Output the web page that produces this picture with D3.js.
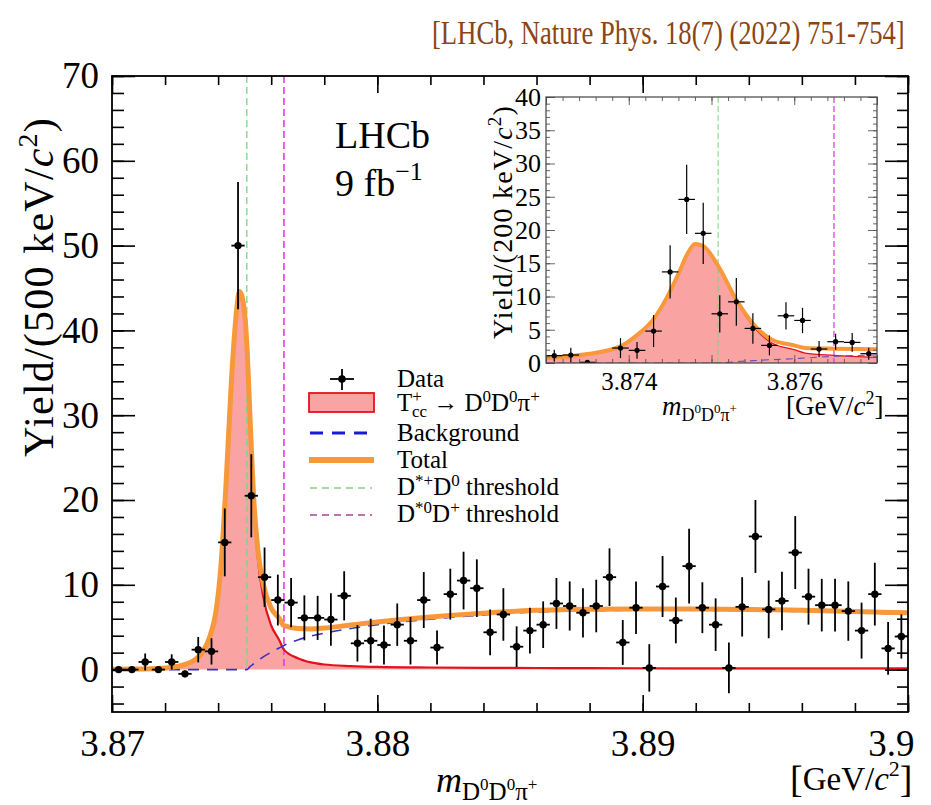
<!DOCTYPE html>
<html><head><meta charset="utf-8">
<script src="https://cdn.jsdelivr.net/npm/d3@7"></script>
<style>body{margin:0;background:#fff} svg{display:block}</style>
</head><body>
<svg id="chart" width="931" height="805"></svg>
<script>
// ---------- main histogram: 500 keV bins from 3.870 to 3.900 GeV ----------
const mainRange = [3.87, 3.90];
const mainBinWidth = 0.0005;
const mainYields = [0.0, 0.0, 0.9, 0.0, 0.9, -0.5, 2.35, 2.15, 15.0, 50.0,
  20.5, 10.9, 8.2, 7.9, 6.1, 6.1, 5.9, 8.7, 3.1, 3.4,
  2.9, 5.3, 3.4, 8.2, 2.6, 8.9, 10.5, 9.6, 4.4, 6.5,
  2.7, 4.6, 5.3, 7.8, 7.5, 6.7, 7.5, 10.9, 3.2, 7.3,
  0.2, 9.8, 5.8, 12.2, 7.3, 5.3, 0.2, 7.4, 15.7, 7.1,
  8.1, 13.8, 8.6, 7.6, 7.6, 6.9, 4.6, 8.9, 2.5, 3.9];
const mainErrors = [0, 0, 1.0, 0, 0.9, 0.4, 1.5, 1.55, 4.0, 7.5,
  4.9, 3.5, 3.0, 2.9, 2.65, 2.6, 3.1, 2.9, 2.15, 2.6,
  2.3, 2.5, 2.8, 3.3, 2.0, 3.0, 3.4, 3.4, 2.7, 3.1,
  2.4, 2.7, 2.75, 3.0, 2.9, 2.9, 3.1, 3.4, 2.65, 3.1,
  2.8, 3.6, 2.7, 4.4, 3.0, 3.1, 3.0, 3.5, 4.3, 3.4,
  3.45, 4.3, 3.3, 3.1, 3.1, 3.5, 3.3, 3.7, 3.1, 2.6];

// fit components sampled along the mass axis (per 500 keV)
const fitMass = [3.8700, 3.8715, 3.8722, 3.8727, 3.8731, 3.8734, 3.8737, 3.8739, 3.8741, 3.8743,
  3.8745, 3.8747, 3.8748, 3.8749, 3.87508, 3.8752, 3.87535, 3.8755, 3.8757, 3.8760,
  3.8763, 3.87648, 3.8770, 3.8775, 3.8780, 3.8790, 3.8800, 3.8820, 3.8840, 3.8860,
  3.8880, 3.8900, 3.8920, 3.8940, 3.8960, 3.8980, 3.9000];
const fitSignal = [0.05, 0.10, 0.25, 0.55, 1.10, 2.00, 4.00, 6.50, 12.0, 22.0,
  34.0, 42.5, 44.6, 44.0, 38.5, 29.5, 19.0, 13.0, 8.6, 5.2,
  3.5, 2.35, 1.35, 0.85, 0.60, 0.42, 0.32, 0.25, 0.21, 0.19,
  0.17, 0.16, 0.15, 0.15, 0.14, 0.14, 0.14];
const fitBackground = [0, 0, 0, 0, 0, 0, 0, 0, 0, 0,
  0, 0, 0, 0, 0, 0.35, 0.7, 1.05, 1.5, 2.05,
  2.55, 2.85, 3.5, 3.95, 4.3, 4.85, 5.3, 5.95, 6.45, 6.8,
  6.95, 7.0, 7.0, 6.95, 6.85, 6.7, 6.55];

// isospin-partner thresholds
const thresholdDstarPlusD0 = 3.87508;
const thresholdDstar0DPlus = 3.87648;

const xMajorTicks = [3.87, 3.88, 3.89, 3.90];
const xTickLabels = ["3.87", "3.88", "3.89", "3.9"];
const yMajorTicks = [0, 10, 20, 30, 40, 50, 60, 70];
const yTickLabels = ["0", "10", "20", "30", "40", "50", "60", "70"];

// ---------- zoomed histogram: 200 keV bins from 3.873 to 3.877 GeV ----------
const insetRange = [3.873, 3.877];
const insetBinWidth = 0.0002;
const insetYields = [1.1, 1.2, 0.1, null, 2.25, 1.9, 4.8, 13.7, 24.6, 19.5,
  7.4, 9.2, 5.2, 2.65, 7.1, 6.4, 2.1, 3.2, 3.1, 1.4];
const insetErrors = [0.9, 1.1, 0.3, null, 1.5, 1.25, 2.4, 4.0, 5.2, 4.6,
  2.8, 3.6, 2.3, 1.5, 2.05, 1.9, 1.2, 1.2, 1.4, 0.9];
const insetFitMass = [3.8730, 3.8735, 3.8739, 3.8741, 3.8743, 3.87445, 3.8746, 3.8747, 3.8748, 3.8749,
  3.87508, 3.8753, 3.8755, 3.87573, 3.8760, 3.87613, 3.87648, 3.8770];
const insetFitSignal = [0.75, 1.35, 2.5, 4.2, 6.6, 9.6, 13.4, 16.2, 17.9, 17.6,
  14.6, 9.3, 5.6, 3.0, 2.0, 1.5, 1.15, 0.85];
const insetFitBackground = [0, 0, 0, 0, 0, 0, 0, 0, 0, 0,
  0, 0.2, 0.35, 0.5, 0.65, 0.75, 1.0, 1.2];
const insetXTicks = [3.874, 3.876];
const insetXTickLabels = ["3.874", "3.876"];
const insetYTicks = [0, 5, 10, 15, 20, 25, 30, 35, 40];

// ---------- styling ----------
const SERIF = "'Liberation Serif', 'DejaVu Serif', serif";
const C = {
  fill: "#f9a3a3", red: "#e3131e", orange: "#f7983a", blue: "#1a1ad6",
  bkgThin: "#3b2fc9", green: "#7fd47f", magenta: "#e23ee2", title: "#8b4513"
};

const svg = d3.select("#chart").attr("font-family", SERIF);

// rich text helper: parts = [{t, sh (px, +down), sz (px), it, dx}]
function richText(g, x, yb, parts, opts = {}) {
  const t = g.append("text").attr("x", x).attr("y", yb)
    .attr("font-family", SERIF).attr("fill", opts.fill || "#000")
    .attr("text-anchor", opts.anchor || "start");
  if (opts.transform) t.attr("transform", opts.transform);
  if (opts.spacing) t.attr("letter-spacing", opts.spacing);
  let prev = 0;
  parts.forEach(p => {
    const sh = p.sh || 0;
    const s = t.append("tspan").attr("dy", sh - prev).attr("font-size", p.sz).text(p.t);
    if (p.it) s.attr("font-style", "italic");
    if (p.dx) s.attr("dx", p.dx);
    prev = sh;
  });
  return t;
}

function massLabel(sz, sub, sup) {
  return [
    {t: "m", sz: sz, it: true},
    {t: "D", sz: sub, sh: sz * 0.22},
    {t: "0", sz: sup, sh: -sz * 0.06},
    {t: "D", sz: sub, sh: sz * 0.22},
    {t: "0", sz: sup, sh: -sz * 0.06},
    {t: "π", sz: sub, sh: sz * 0.22},
    {t: "+", sz: sup, sh: -sz * 0.06}
  ];
}

function drawHistogram(g, cfg) {
  const {x, y, mass, yields, errors, binW, r, lw} = cfg;
  const pts = mass.map((m, i) => ({m, v: yields[i], e: errors[i]})).filter(d => d.v !== null);
  const pg = g.append("g").attr("stroke", "#000").attr("stroke-width", lw);
  pts.forEach(d => {
    pg.append("line").attr("x1", x(d.m - binW / 2)).attr("x2", x(d.m + binW / 2))
      .attr("y1", y(d.v)).attr("y2", y(d.v));
    if (d.e > 0) pg.append("line").attr("x1", x(d.m)).attr("x2", x(d.m))
      .attr("y1", y(d.v - d.e)).attr("y2", y(d.v + d.e));
  });
  g.append("g").selectAll("circle").data(pts).join("circle")
    .attr("cx", d => x(d.m)).attr("cy", d => y(d.v)).attr("r", r).attr("fill", "#000");
}

function drawFit(g, cfg) {
  const {x, y, mass, sig, bkg, wOrange, wRed, wBkg, dashBkg, bkgColor} = cfg;
  const rows = mass.map((m, i) => ({m, s: sig[i], b: bkg[i], t: sig[i] + bkg[i]}));
  const curve = d3.curveMonotoneX;
  g.append("path").datum(rows).attr("fill", C.fill)
    .attr("d", d3.area().curve(curve).x(d => x(d.m)).y0(y(0)).y1(d => y(d.s)));
  return {
    signalLine: () => g.append("path").datum(rows).attr("fill", "none").attr("stroke", C.red)
      .attr("stroke-width", wRed).attr("d", d3.line().curve(curve).x(d => x(d.m)).y(d => y(d.s))),
    bkgLine: () => g.append("path").datum(rows).attr("fill", "none").attr("stroke", bkgColor)
      .attr("stroke-width", wBkg).attr("stroke-dasharray", dashBkg)
      .attr("d", d3.line().curve(curve).x(d => x(d.m)).y(d => y(d.b))),
    totalLine: () => g.append("path").datum(rows).attr("fill", "none").attr("stroke", C.orange)
      .attr("stroke-width", wOrange).attr("stroke-linejoin", "round")
      .attr("d", d3.line().curve(curve).x(d => x(d.m)).y(d => y(d.t)))
  };
}

// ================= main frame =================
const M = {l: 112, r: 908, t: 76, b: 712};
const x = d3.scaleLinear().domain(mainRange).range([M.l, M.r]);
const y = d3.scaleLinear().domain([-5, 70]).range([M.b, M.t]);

const defs = svg.append("defs");
defs.append("clipPath").attr("id", "mainClip")
  .append("rect").attr("x", M.l).attr("y", M.t).attr("width", M.r - M.l).attr("height", M.b - M.t);

const plot = svg.append("g").attr("clip-path", "url(#mainClip)");

const mainFit = drawFit(plot, {
  x, y, mass: fitMass, sig: fitSignal, bkg: fitBackground,
  wOrange: 5, wRed: 2.2, wBkg: 1.6, dashBkg: "11,8", bkgColor: C.bkgThin
});
plot.append("line").attr("x1", x(thresholdDstarPlusD0)).attr("x2", x(thresholdDstarPlusD0))
  .attr("y1", y(70)).attr("y2", y(0)).attr("stroke", C.green).attr("stroke-width", 1.5)
  .attr("stroke-dasharray", "7,4").attr("opacity", 0.85);
plot.append("line").attr("x1", x(thresholdDstar0DPlus)).attr("x2", x(thresholdDstar0DPlus))
  .attr("y1", y(70)).attr("y2", y(0)).attr("stroke", C.magenta).attr("stroke-width", 1.6)
  .attr("stroke-dasharray", "7,4");
mainFit.signalLine();
mainFit.bkgLine();
mainFit.totalLine();

const mainCenters = mainYields.map((_, i) => mainRange[0] + mainBinWidth * (i + 0.5));
drawHistogram(plot, {x, y, mass: mainCenters, yields: mainYields, errors: mainErrors,
  binW: mainBinWidth, r: 3.7, lw: 1.8});

// axes
function styleAxis(g, fs) {
  g.select(".domain").remove();
  g.attr("font-family", SERIF);
  g.selectAll(".tick line").attr("stroke", "#000").attr("stroke-width", 1.6);
  g.selectAll("text").attr("font-family", SERIF).attr("font-size", fs).attr("fill", "#000");
}
const xMinor = d3.range(3.870, 3.9001, 0.002);
const yMinor = d3.range(-4, 70.01, 2);

svg.append("g").attr("transform", `translate(0,${M.b})`)
  .call(d3.axisBottom(x).tickValues(xMinor).tickSize(-9).tickSizeOuter(0).tickFormat(""))
  .call(g => styleAxis(g, 30));
svg.append("g").attr("transform", `translate(0,${M.b})`)
  .call(d3.axisBottom(x).tickValues(xMajorTicks).tickSize(-17).tickSizeOuter(0).tickPadding(18)
    .tickFormat((d, i) => xTickLabels[i]))
  .call(g => styleAxis(g, 37))
  // the last label is pulled inside the frame edge
  .call(g => g.selectAll(".tick text").filter(d => d === 3.90).attr("text-anchor", "end").attr("dx", 6));
svg.append("g").attr("transform", `translate(0,${M.t})`)
  .call(d3.axisTop(x).tickValues(xMinor).tickSize(-9).tickSizeOuter(0).tickFormat(""))
  .call(g => styleAxis(g, 30));
svg.append("g").attr("transform", `translate(0,${M.t})`)
  .call(d3.axisTop(x).tickValues(xMajorTicks).tickSize(-17).tickSizeOuter(0).tickFormat(""))
  .call(g => styleAxis(g, 30));
svg.append("g").attr("transform", `translate(${M.l},0)`)
  .call(d3.axisLeft(y).tickValues(yMinor).tickSize(-12).tickSizeOuter(0).tickFormat(""))
  .call(g => styleAxis(g, 30));
svg.append("g").attr("transform", `translate(${M.l},0)`)
  .call(d3.axisLeft(y).tickValues(yMajorTicks).tickSize(-23).tickSizeOuter(0).tickPadding(13)
    .tickFormat((d, i) => yTickLabels[i]))
  .call(g => styleAxis(g, 37));
svg.append("g").attr("transform", `translate(${M.r},0)`)
  .call(d3.axisRight(y).tickValues(yMinor).tickSize(-11).tickSizeOuter(0).tickFormat(""))
  .call(g => styleAxis(g, 30));
svg.append("g").attr("transform", `translate(${M.r},0)`)
  .call(d3.axisRight(y).tickValues(yMajorTicks).tickSize(-23).tickSizeOuter(0).tickFormat(""))
  .call(g => styleAxis(g, 30));

svg.append("rect").attr("x", M.l).attr("y", M.t).attr("width", M.r - M.l).attr("height", M.b - M.t)
  .attr("fill", "none").attr("stroke", "#000").attr("stroke-width", 1.8);

// axis titles
richText(svg, 0, 0, [
  {t: "Yield/(500 keV/", sz: 42}, {t: "c", sz: 42, it: true},
  {t: "2", sz: 28, sh: -16}, {t: ")", sz: 42, sh: 0}
], {anchor: "middle", transform: "translate(53,287) rotate(-90)", spacing: 1.2});

richText(svg, 436, 792, massLabel(36, 25, 17));
richText(svg, 790, 792, [
  {t: "[", sz: 38}, {t: "GeV/", sz: 33, sh: -2}, {t: "c", sz: 33, it: true, sh: -2},
  {t: "2", sz: 22, sh: -16}, {t: "]", sz: 38, sh: 0}
]);

// experiment label
richText(svg, 335, 148, [{t: "LHCb", sz: 38}]);
richText(svg, 335, 196, [{t: "9 fb", sz: 38}, {t: "−1", sz: 26, sh: -16}]);

// ================= legend =================
const lg = svg.append("g");
const legendTextX = 397;
const LFS = 25, LSS = 17;
lg.append("line").attr("x1", 330).attr("x2", 354).attr("y1", 379).attr("y2", 379).attr("stroke", "#000").attr("stroke-width", 1.8);
lg.append("line").attr("x1", 342).attr("x2", 342).attr("y1", 369).attr("y2", 390).attr("stroke", "#000").attr("stroke-width", 1.8);
lg.append("circle").attr("cx", 342).attr("cy", 379).attr("r", 3.8).attr("fill", "#000");
richText(lg, legendTextX, 387, [{t: "Data", sz: LFS}]);
lg.append("rect").attr("x", 309).attr("y", 393).attr("width", 65).attr("height", 19)
  .attr("fill", C.fill).attr("stroke", C.red).attr("stroke-width", 1.8);
richText(lg, legendTextX, 411, [
  {t: "T", sz: LFS}, {t: "+", sz: LSS, sh: -9}, {t: "cc", sz: LSS, sh: 6, dx: -10},
  {t: " → D", sz: LFS, sh: 0}, {t: "0", sz: LSS, sh: -9}, {t: "D", sz: LFS, sh: 0},
  {t: "0", sz: LSS, sh: -9}, {t: "π", sz: LFS, sh: 0}, {t: "+", sz: LSS, sh: -9}
]);
lg.append("line").attr("x1", 310).attr("x2", 370).attr("y1", 433).attr("y2", 433)
  .attr("stroke", C.blue).attr("stroke-width", 3.2).attr("stroke-dasharray", "13,9");
richText(lg, legendTextX, 441, [{t: "Background", sz: LFS}]);
lg.append("line").attr("x1", 309).attr("x2", 374).attr("y1", 460).attr("y2", 460)
  .attr("stroke", C.orange).attr("stroke-width", 6);
richText(lg, legendTextX, 468, [{t: "Total", sz: LFS}]);
lg.append("line").attr("x1", 310).attr("x2", 372).attr("y1", 488).attr("y2", 488)
  .attr("stroke", C.green).attr("stroke-width", 1.5).attr("stroke-dasharray", "7,5");
richText(lg, legendTextX, 495, [
  {t: "D", sz: LFS}, {t: "*+", sz: LSS, sh: -9}, {t: "D", sz: LFS, sh: 0}, {t: "0", sz: LSS, sh: -9},
  {t: " threshold", sz: LFS, sh: 0}
]);
lg.append("line").attr("x1", 310).attr("x2", 372).attr("y1", 515).attr("y2", 515)
  .attr("stroke", "#b0409e").attr("stroke-width", 1.5).attr("stroke-dasharray", "7,5");
richText(lg, legendTextX, 522, [
  {t: "D", sz: LFS}, {t: "*0", sz: LSS, sh: -9}, {t: "D", sz: LFS, sh: 0}, {t: "+", sz: LSS, sh: -9},
  {t: " threshold", sz: LFS, sh: 0}
]);

// ================= inset =================
const I = {l: 546, r: 877, t: 97, b: 363};
const xi = d3.scaleLinear().domain(insetRange).range([I.l, I.r]);
const yi = d3.scaleLinear().domain([0, 40]).range([I.b, I.t]);

svg.append("rect").attr("x", I.l).attr("y", I.t).attr("width", I.r - I.l).attr("height", I.b - I.t).attr("fill", "#fff");
defs.append("clipPath").attr("id", "insetClip")
  .append("rect").attr("x", I.l).attr("y", I.t).attr("width", I.r - I.l).attr("height", I.b - I.t);
const ip = svg.append("g").attr("clip-path", "url(#insetClip)");

const insetFit = drawFit(ip, {
  x: xi, y: yi, mass: insetFitMass, sig: insetFitSignal, bkg: insetFitBackground,
  wOrange: 4, wRed: 1.3, wBkg: 1.1, dashBkg: "7,5", bkgColor: "#6a4fc8"
});
ip.append("line").attr("x1", xi(thresholdDstarPlusD0)).attr("x2", xi(thresholdDstarPlusD0))
  .attr("y1", I.t).attr("y2", I.b).attr("stroke", C.green).attr("stroke-width", 1.2)
  .attr("stroke-dasharray", "6,3").attr("opacity", 0.85);
ip.append("line").attr("x1", xi(thresholdDstar0DPlus)).attr("x2", xi(thresholdDstar0DPlus))
  .attr("y1", I.t).attr("y2", I.b).attr("stroke", C.magenta).attr("stroke-width", 1.3)
  .attr("stroke-dasharray", "6,3");
insetFit.signalLine();
insetFit.bkgLine();
insetFit.totalLine();

const insetCenters = insetYields.map((_, i) => insetRange[0] + insetBinWidth * (i + 0.5));
drawHistogram(ip, {x: xi, y: yi, mass: insetCenters, yields: insetYields, errors: insetErrors,
  binW: insetBinWidth, r: 2.6, lw: 1.2});

function styleInset(g, fs) {
  g.select(".domain").remove();
  g.attr("font-family", SERIF);
  g.selectAll(".tick line").attr("stroke", "#555").attr("stroke-width", 0.9);
  g.selectAll("text").attr("font-family", SERIF).attr("font-size", fs).attr("fill", "#000");
}
const ixMinor = d3.range(3.8730, 3.87701, 0.0002);
const ixMajor = [3.873, 3.874, 3.875, 3.876, 3.877];
const iyMinor = d3.range(0, 40.01, 1);
svg.append("g").attr("transform", `translate(0,${I.b})`)
  .call(d3.axisBottom(xi).tickValues(ixMinor).tickSize(-4).tickSizeOuter(0).tickFormat(""))
  .call(g => styleInset(g, 22));
svg.append("g").attr("transform", `translate(0,${I.b})`)
  .call(d3.axisBottom(xi).tickValues(ixMajor).tickSize(-8).tickSizeOuter(0).tickFormat(""))
  .call(g => styleInset(g, 22));
svg.append("g").attr("transform", `translate(0,${I.b})`)
  .call(d3.axisBottom(xi).tickValues(insetXTicks).tickSize(0).tickSizeOuter(0).tickPadding(9)
    .tickFormat((d, i) => insetXTickLabels[i]))
  .call(g => styleInset(g, 25));
svg.append("g").attr("transform", `translate(0,${I.t})`)
  .call(d3.axisTop(xi).tickValues(ixMinor).tickSize(-4).tickSizeOuter(0).tickFormat(""))
  .call(g => styleInset(g, 22));
svg.append("g").attr("transform", `translate(0,${I.t})`)
  .call(d3.axisTop(xi).tickValues(ixMajor).tickSize(-8).tickSizeOuter(0).tickFormat(""))
  .call(g => styleInset(g, 22));
svg.append("g").attr("transform", `translate(${I.l},0)`)
  .call(d3.axisLeft(yi).tickValues(iyMinor).tickSize(-4).tickSizeOuter(0).tickFormat(""))
  .call(g => styleInset(g, 22));
svg.append("g").attr("transform", `translate(${I.l},0)`)
  .call(d3.axisLeft(yi).tickValues(insetYTicks).tickSize(-9).tickSizeOuter(0).tickPadding(5)
    .tickFormat(d3.format("d")))
  .call(g => styleInset(g, 26));
svg.append("g").attr("transform", `translate(${I.r},0)`)
  .call(d3.axisRight(yi).tickValues(iyMinor).tickSize(-4).tickSizeOuter(0).tickFormat(""))
  .call(g => styleInset(g, 22));
svg.append("g").attr("transform", `translate(${I.r},0)`)
  .call(d3.axisRight(yi).tickValues(insetYTicks).tickSize(-9).tickSizeOuter(0).tickFormat(""))
  .call(g => styleInset(g, 22));
svg.append("rect").attr("x", I.l).attr("y", I.t).attr("width", I.r - I.l).attr("height", I.b - I.t)
  .attr("fill", "none").attr("stroke", "#444").attr("stroke-width", 1.2);

richText(svg, 0, 0, [
  {t: "Yield/(200 keV/", sz: 28}, {t: "c", sz: 28, it: true},
  {t: "2", sz: 19, sh: -11}, {t: ")", sz: 28, sh: 0}
], {anchor: "middle", transform: "translate(512,222) rotate(-90)", spacing: 1.2});
richText(svg, 662, 415, massLabel(27, 18, 13));
richText(svg, 786, 415, [
  {t: "[GeV/", sz: 27}, {t: "c", sz: 27, it: true}, {t: "2", sz: 18, sh: -11}, {t: "]", sz: 27, sh: 0}
]);

// citation, narrowed horizontally to fit the span above the frame
const citation = svg.append("text").attr("x", 0).attr("y", 0)
  .attr("font-family", SERIF).attr("font-size", 34).attr("fill", C.title)
  .text("[LHCb, Nature Phys. 18(7) (2022) 751-754]");
const citeWidth = citation.node().getComputedTextLength();
citation.attr("transform", `translate(432,44) scale(${473 / citeWidth},1)`);
</script>
</body></html>
